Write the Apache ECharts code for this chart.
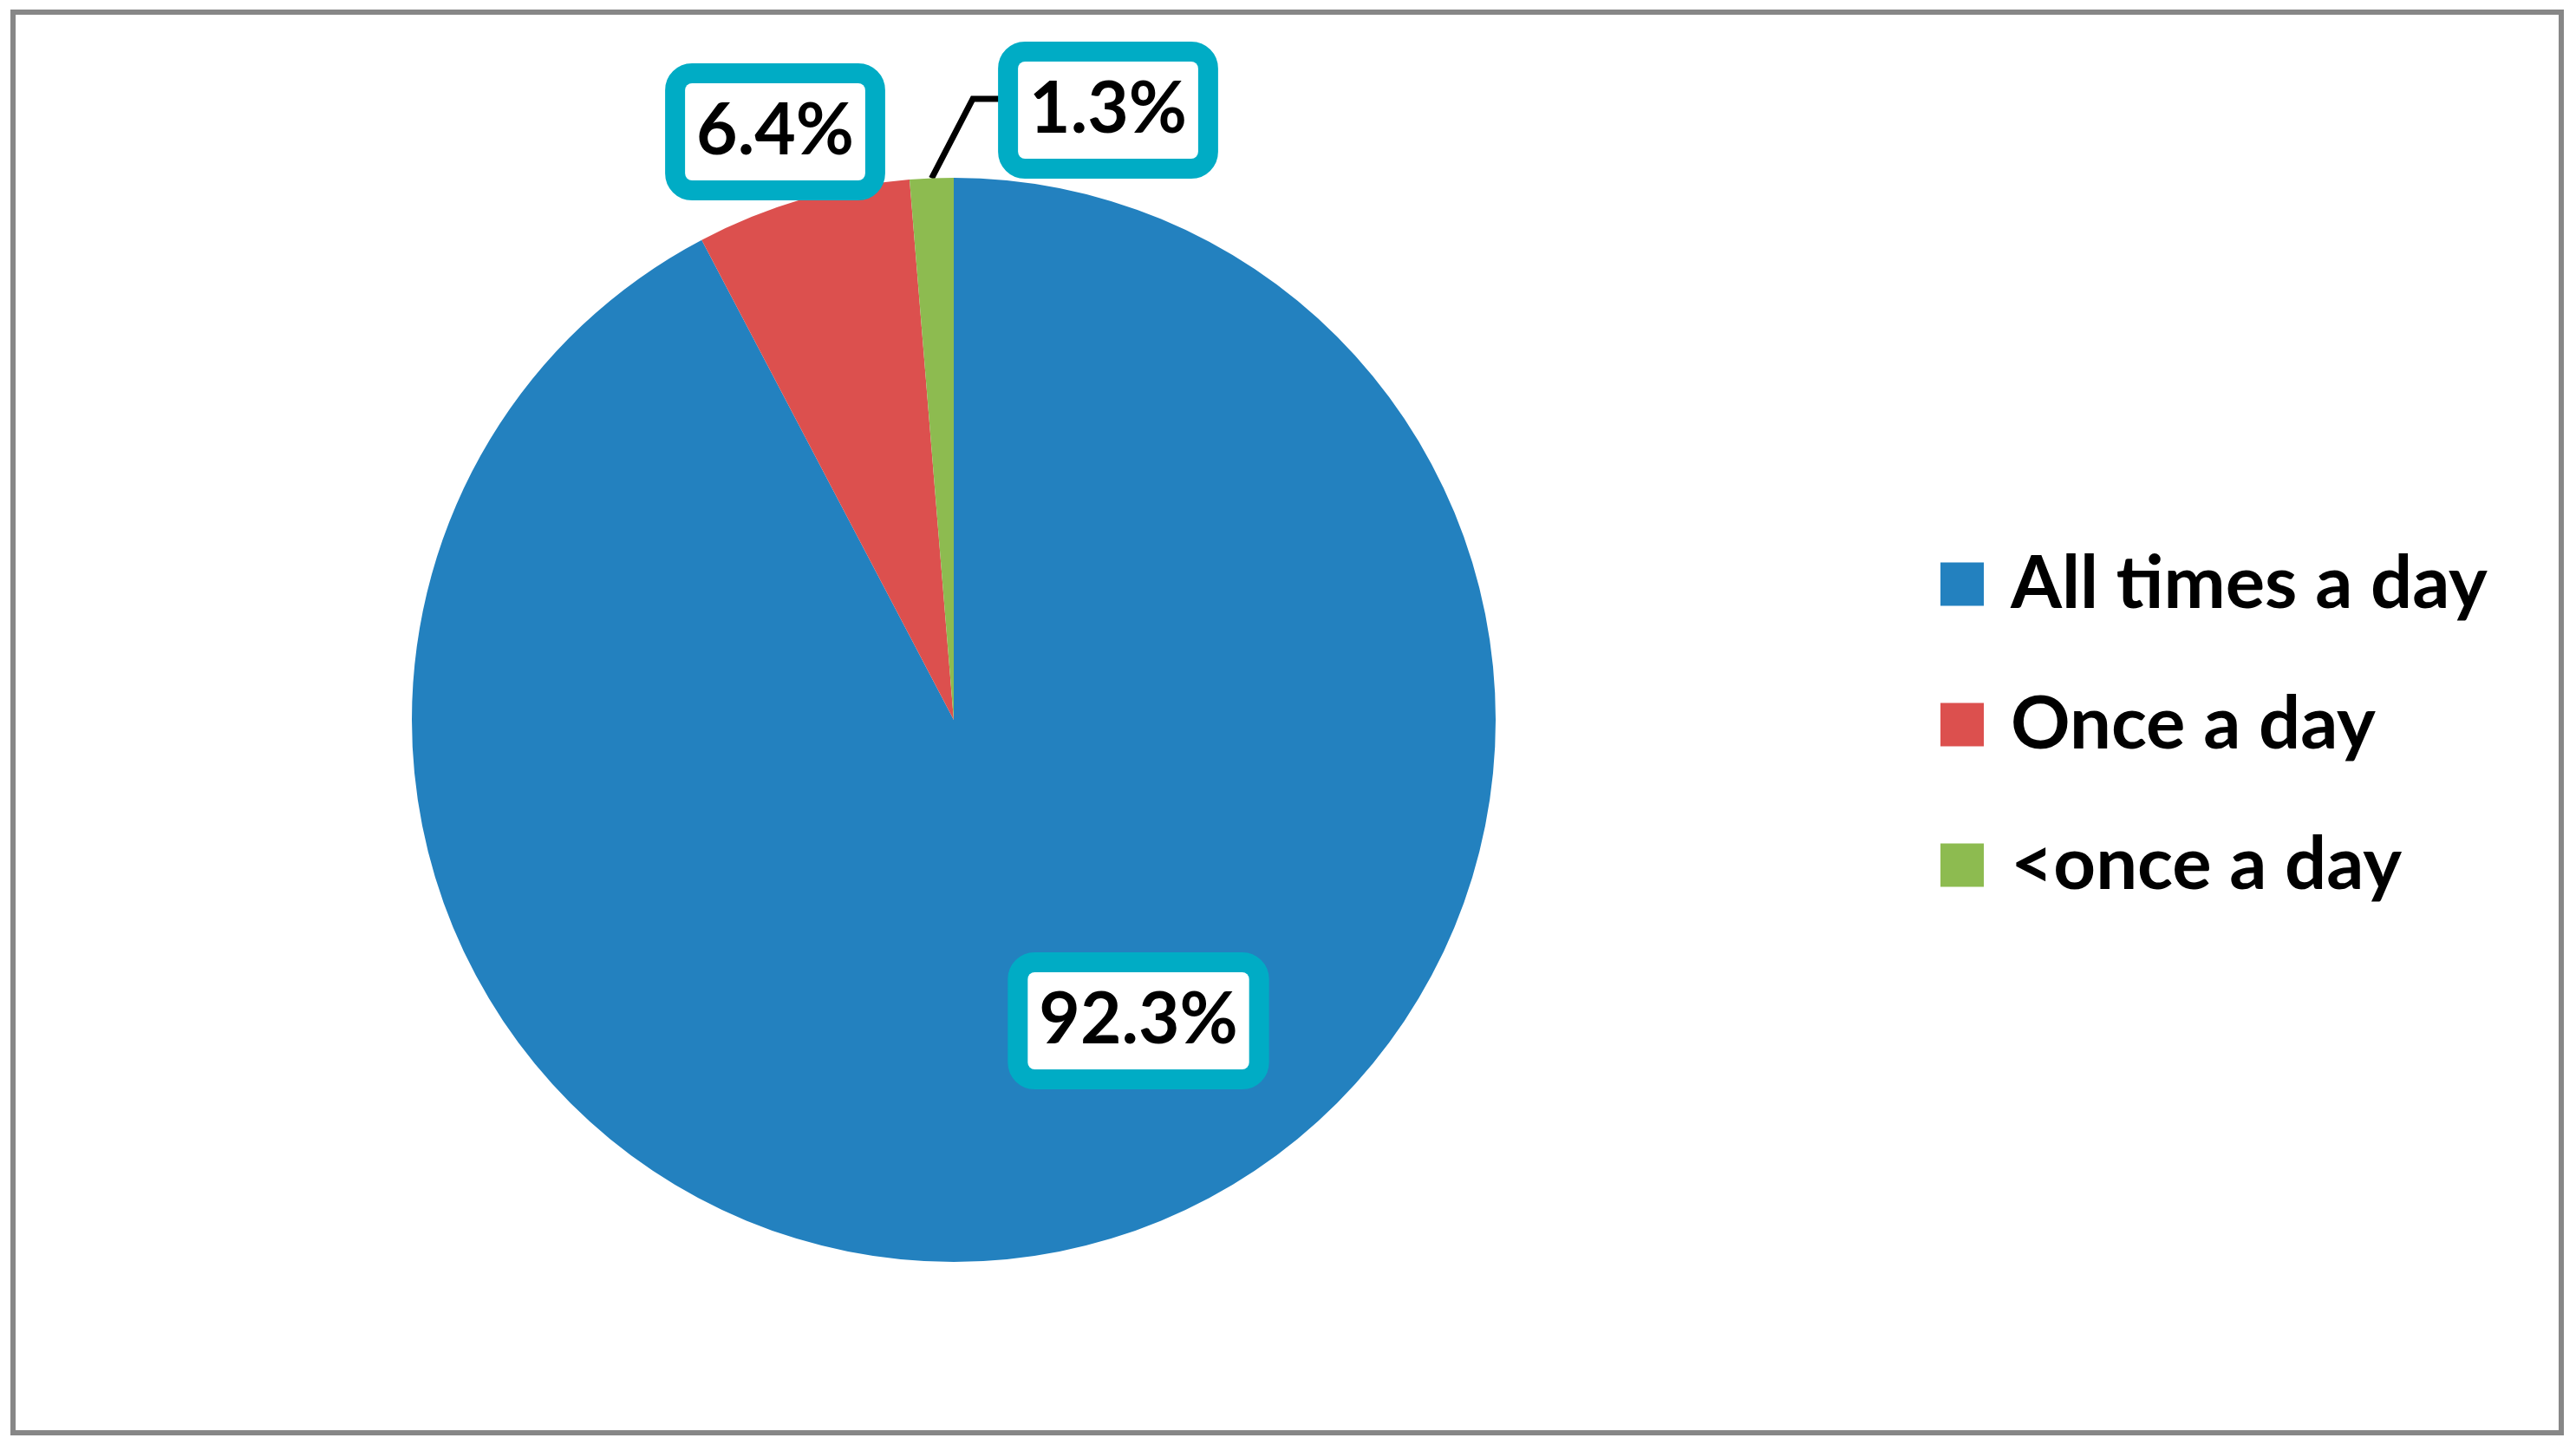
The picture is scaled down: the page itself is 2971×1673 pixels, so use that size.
<!DOCTYPE html>
<html><head><meta charset="utf-8">
<script src="https://cdn.jsdelivr.net/npm/echarts@6/dist/echarts.min.js"></script>
<style>html,body{margin:0;padding:0;background:#fff}#c{width:2971px;height:1673px}</style>
</head><body><div id="c"></div>
<script>
const categories = ['All times a day', 'Once a day', '<once a day'];
const values = [92.3, 6.4, 1.3];
const colors = ['#2381BF', '#DC504E', '#8DBB50'];

// layout (label box centres, pixels)
const labelPos = [[1313, 1177], [894, 152], [1278, 127]];
const CX = 1100, CY = 830, R = 625;

const total = values.reduce((a, b) => a + b, 0);
function edgePoint(i) {
  let before = 0;
  for (let k = 0; k < i; k++) before += values[k];
  const frac = (before + values[i] / 2) / total;
  const a = frac * Math.PI * 2;
  return [CX + R * Math.sin(a), CY - R * Math.cos(a)];
}

const chart = echarts.init(document.getElementById('c'));
chart.setOption({
  animation: false,
  backgroundColor: '#fff',
  graphic: [{
    type: 'rect', silent: true, z: -1,
    shape: {x: 15, y: 14, width: 2939, height: 1638},
    style: {fill: null, stroke: '#878787', lineWidth: 6}
  }],
  legend: {
    orient: 'vertical', left: 2238, top: 631, padding: 0,
    itemWidth: 50, itemHeight: 50, itemGap: 77, icon: 'rect',
    data: categories,
    textStyle: {fontFamily: 'Lato', fontWeight: 'bold', fontSize: 85, color: '#000',
                padding: [0, 0, 0, 26]}
  },
  series: [{
    type: 'pie',
    center: [CX, CY], radius: R,
    startAngle: 90, clockwise: true,
    avoidLabelOverlap: false,
    emphasis: {disabled: true},
    itemStyle: {borderWidth: 0},
    label: {
      show: true, position: 'outside',
      formatter: p => p.value.toFixed(1) + '%',
      color: '#000', fontFamily: 'Lato', fontWeight: 'bold', fontSize: 82, lineHeight: 82,
      backgroundColor: '#fff', borderColor: '#00ACC5', borderWidth: 23, borderRadius: 8,
      padding: [15, 13]
    },
    labelLine: {show: true, lineStyle: {color: '#000', width: 7}},
    labelLayout: function (p) {
      const i = p.dataIndex;
      const o = {x: labelPos[i][0], y: labelPos[i][1], align: 'center', verticalAlign: 'middle'};
      if (i === 2) {
        o.labelLinePoints = [edgePoint(2), [1122, 114], [1152, 114]];
      }
      return o;
    },
    data: categories.map((c, i) => ({
      name: c, value: values[i],
      itemStyle: {color: colors[i]},
      labelLine: {show: i === 2}
    }))
  }]
});
</script>
</body></html>
